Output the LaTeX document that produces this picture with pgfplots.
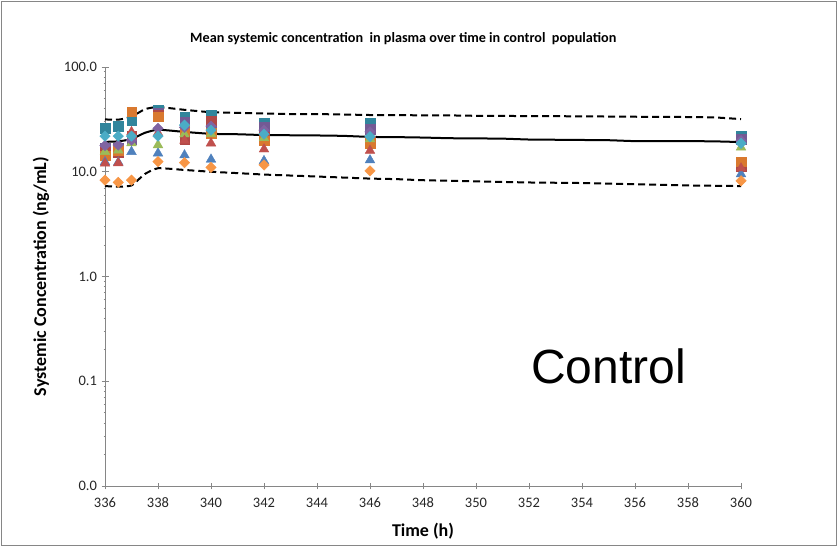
\documentclass[border=0pt]{standalone}
\usepackage{pgfplots}
\pgfplotsset{compat=1.18}
\usepackage{fontspec}
\setmainfont{Carlito}
\newfontfamily\arialfont{Liberation Sans}
\definecolor{sblue}{HTML}{4F81BD}
\definecolor{sred}{HTML}{C0504D}
\definecolor{sgreen}{HTML}{9BBB59}
\definecolor{spurple}{HTML}{8064A2}
\definecolor{saqua}{HTML}{4BACC6}
\definecolor{sorange}{HTML}{F79646}
\definecolor{steal}{HTML}{31859C}
\definecolor{sorsq}{HTML}{D9792F}
\definecolor{spursq}{HTML}{735A94}
\definecolor{sredsq}{HTML}{B04846}
\definecolor{axgray}{HTML}{868686}
\begin{document}
\begin{tikzpicture}[x=1bp,y=1bp]
\useasboundingbox (0,0) rectangle (838,547);
\draw[axgray, line width=0.8bp] (1.5,1.5) rectangle (836.5,545.5);
\begin{axis}[
  at={(105bp,61bp)}, anchor=south west,
  scale only axis, width=636bp, height=419bp,
  xmin=336, xmax=360, ymode=log, ymin=0.01, ymax=100,
  axis lines=left, axis line style={-, axgray, line width=0.9bp},
  xtick={336,338,...,360},
  xticklabels={336,338,340,342,344,346,348,350,352,354,356,358,360},
  ytick={0.01,0.1,1,10,100},
  yticklabels={0.0,0.1,1.0,10.0,100.0},
  minor tick num=0, minor ytick={},
  tick align=center, major tick length=7bp,
  tick style={axgray, line width=0.8bp},
  ticklabel style={font=\fontsize{14.5bp}{17bp}\selectfont, text=black!85},
  xticklabel style={yshift=-5bp},
  yticklabel style={xshift=-1bp},
  xlabel={Time (h)}, ylabel={Systemic Concentration (ng/mL)},
  label style={font=\fontsize{18bp}{21bp}\selectfont\bfseries},
  xlabel style={yshift=-8bp},
  ylabel style={yshift=8bp},
  title={Mean systemic concentration\ \ in plasma over time in control\ \ population},
  title style={font=\fontsize{14.2bp}{17bp}\selectfont\bfseries, at={(axis description cs:0.469,1)}, anchor=south, yshift=13bp},
  clip=false,
]
% median line
\addplot[black, line width=2bp, smooth, tension=0.3, mark=none] coordinates {
(336,19.3) (336.5,19.5) (337,20.5) (337.5,23.5) (338,25.2) (339,24.0) (340,23.0) (341,22.8) (342,22.4) (343,22.3) (344,22.2) (345,22.0) (346,21.5) (347,21.4) (348,21.2) (349,20.9) (350,20.8) (351,20.7) (352,20.3) (353,20.2) (354,20.1) (355,20.0) (356,19.6) (357,19.6) (358,19.6) (359,19.5) (360,19.2)};
% upper percentile
\addplot[black, line width=2bp, dash pattern=on 7bp off 4bp, smooth, tension=0.3, mark=none] coordinates {
(336,31.6) (336.5,31.4) (337,33.5) (337.5,39.5) (338,41.5) (339,39.0) (340,37.0) (341,36.5) (342,36.0) (343,35.5) (344,35.5) (345,35.2) (346,34.8) (347,34.8) (348,34.5) (349,34.5) (350,34.2) (352,34.0) (354,33.8) (356,33.5) (358,33.3) (359,33.0) (360,31.8)};
% lower percentile
\addplot[black, line width=2bp, dash pattern=on 7bp off 4bp, smooth, tension=0.3, mark=none] coordinates {
(336,7.3) (336.5,7.2) (337,7.4) (337.5,9.5) (338,10.8) (339,10.4) (340,10.0) (341,9.7) (342,9.4) (343,9.2) (344,9.0) (345,8.8) (346,8.6) (347,8.5) (348,8.3) (350,8.1) (352,7.9) (354,7.8) (356,7.6) (358,7.4) (360,7.3)};
% squares
\addplot[only marks, mark=square*, mark size=4.8bp, color=steal] coordinates {
(336,25.9) (336.5,27.3) (337,31.1) (338,38.5) (339,33.5) (340,34.8) (342,29.0) (346,29.4) (360,21.9)};
\addplot[only marks, mark=square*, mark size=4.8bp, color=spursq] coordinates {
(336,16.8) (336.5,16.8) (337,20.5) (338,36.0) (339,30.0) (340,29.5) (342,26.5) (346,25.5) (360,20.5)};
\addplot[only marks, mark=square*, mark size=4.8bp, color=sredsq] coordinates {
(336,15.5) (336.5,15.2) (337,22.0) (338,35.0) (339,20.5) (340,30.7) (342,21.5) (346,19.5) (360,11.3)};
\addplot[only marks, mark=square*, mark size=4.8bp, color=sorsq] coordinates {
(336,14.2) (336.5,16.0) (337,37.4) (338,33.5) (339,25.0) (340,23.2) (342,19.8) (346,18.7) (360,12.5)};
% triangles
\addplot[only marks, mark=triangle*, mark size=5.6bp, color=sblue] coordinates {
(336,12.4) (336.5,12.3) (337,15.5) (338,15.0) (339,14.4) (340,13.1) (342,12.7) (346,12.9) (360,9.5)};
\addplot[only marks, mark=triangle*, mark size=5.6bp, color=sgreen] coordinates {
(336,15.5) (336.5,16.0) (337,18.8) (338,18.0) (339,22.8) (340,23.0) (342,21.0) (346,20.5) (360,17.1)};
\addplot[only marks, mark=triangle*, mark size=5.6bp, color=sred] coordinates {
(336,12.0) (336.5,12.1) (337,24.0) (338,23.5) (339,19.8) (340,18.7) (342,16.4) (346,15.9) (360,10.8)};
% diamonds
\addplot[only marks, mark=square*, mark size=3.7bp, mark options={rotate=45}, color=spurple] coordinates {
(336,17.8) (336.5,18.0) (337,20.0) (338,25.9) (339,26.5) (340,27.3) (342,25.0) (346,24.0) (360,19.8)};
\addplot[only marks, mark=square*, mark size=3.7bp, mark options={rotate=45}, color=saqua] coordinates {
(336,21.9) (336.5,21.9) (337,21.9) (338,21.9) (339,27.9) (340,25.0) (342,22.9) (346,21.6) (360,18.7)};
\addplot[only marks, mark=square*, mark size=3.7bp, mark options={rotate=45}, color=sorange] coordinates {
(336,8.3) (336.5,7.9) (337,8.3) (338,12.5) (339,12.2) (340,11.0) (342,11.6) (346,10.2) (360,8.2)};
\node[anchor=west, inner sep=0pt, font=\arialfont\fontsize{48bp}{56bp}\selectfont] at (axis description cs:0.67,0.286) {Control};
\end{axis}
\end{tikzpicture}
\end{document}
